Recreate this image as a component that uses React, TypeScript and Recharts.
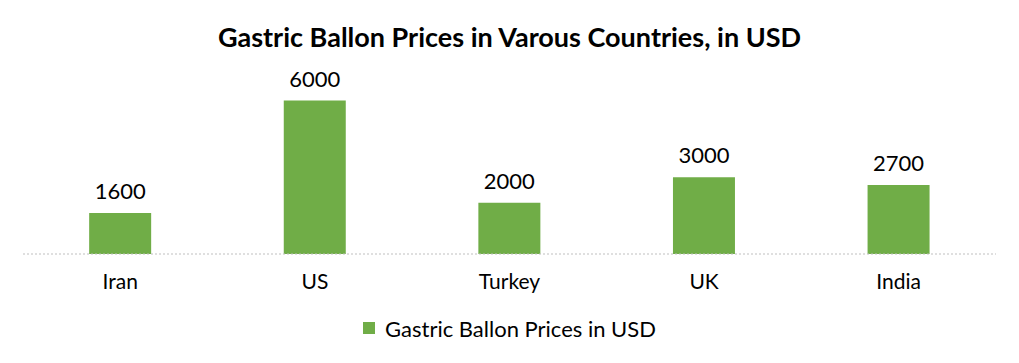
import React from "react";
import { Bar, BarChart, LabelList, Legend, XAxis, YAxis } from "recharts";

const countries = ["Iran", "US", "Turkey", "UK", "India"];
const prices = [1600, 6000, 2000, 3000, 2700];

const data = countries.map((country, i) => ({ country, price: prices[i] }));

const GREEN = "#70AD47";
const FONT = "Lato, 'Open Sans', sans-serif";

function LegendContent() {
  return (
    <div style={{ display: "flex", justifyContent: "center", alignItems: "center", fontFamily: FONT, fontSize: 22, color: "#000", height: 24 }}>
      <span style={{ width: 12, height: 12, background: GREEN, display: "inline-block", marginRight: 10 }} />
      <span>Gastric Ballon Prices in USD</span>
    </div>
  );
}

export default function App() {
  return (
    <div style={{ position: "absolute", left: 0, top: 0, width: 1019, height: 363, background: "#fff" }}>
      <div
        style={{
          position: "absolute",
          top: 20,
          width: 1019,
          textAlign: "center",
          fontFamily: FONT,
          fontWeight: 700,
          fontSize: 27,
          color: "#000",
        }}
      >
        Gastric Ballon Prices in Varous Countries, in USD
      </div>
      <BarChart
        width={1019}
        height={363}
        data={data}
        margin={{ top: 75, right: 23, left: 23, bottom: 45 }}
        barCategoryGap="34%"
      >
        <XAxis
          dataKey="country"
          axisLine={{ stroke: "#bfbfbf", strokeDasharray: "2 2" }}
          tickLine={false}
          tick={{ fontSize: 21, fill: "#000", fontFamily: FONT }}
          tickMargin={14}
          height={40}
        />
        <YAxis hide domain={[0, 7000]} />
        <Legend content={<LegendContent />} wrapperStyle={{ top: 316, left: 0, width: 1019 }} />
        <Bar dataKey="price" fill={GREEN} isAnimationActive={false}>
          <LabelList dataKey="price" position="top" offset={14} style={{ fontSize: 22, fill: "#000", fontFamily: FONT }} />
        </Bar>
      </BarChart>
    </div>
  );
}
